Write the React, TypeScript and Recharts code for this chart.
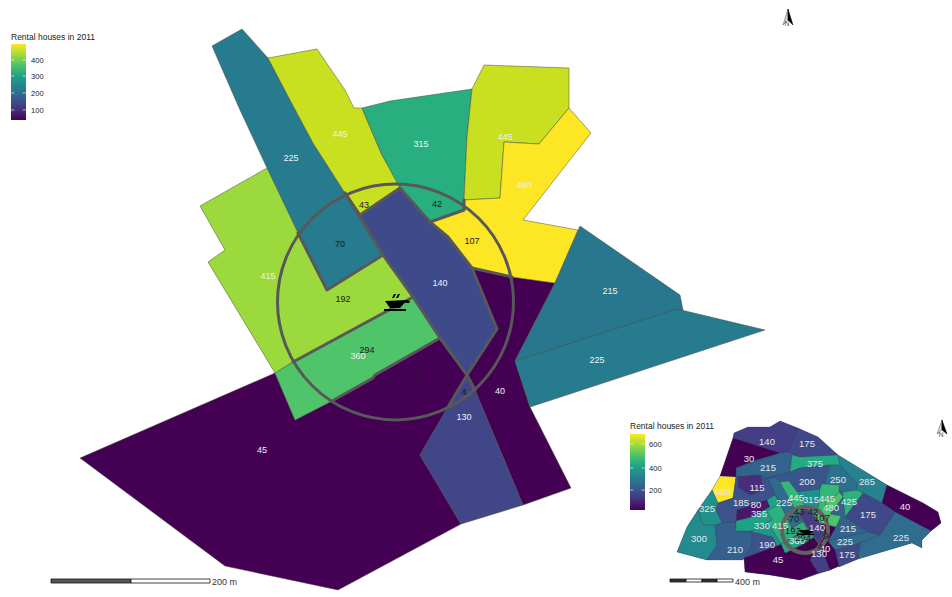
import React from 'react';
import { ScatterChart, Scatter, XAxis, YAxis, ReferenceDot } from 'recharts';

type P = number[];
type Tract = { value: number; pts: P[] };

// ---- main map tracts (map units) ----
const mainTracts: Tract[] = [
  { value: 45, pts: [[80,458],[275,373],[295,420],[332,401],[373,377],[440,338],[467,375],[497,329],[472,268],[512,277],[555,283],[515,361],[530,407],[571,488],[523,505],[475,390],[448,407],[420,455],[461,524],[338,590],[225,566]] },
  { value: 130, pts: [[467,375],[475,390],[523,505],[461,524],[420,455],[448,407]] },
  { value: 225, pts: [[212,46],[242,29],[268,58],[290,100],[313,143],[345,193],[383,255],[327,290],[298,233],[267,168],[240,110]] },
  { value: 445, pts: [[268,58],[317,49],[345,90],[354,108],[362,108],[370,127],[382,155],[398,183],[400,188],[360,215],[345,193],[313,143],[290,100]] },
  { value: 315, pts: [[362,108],[390,101],[472,89],[467,137],[464,200],[464,210],[430,222],[400,188],[382,155],[370,127]] },
  { value: 445.1, pts: [[472,89],[484,65],[569,68],[569,108],[539,144],[504,142],[500,198],[464,200],[467,137]] },
  { value: 480, pts: [[569,108],[591,133],[523,220],[578,230],[555,283],[512,277],[472,268],[448,237],[430,222],[464,210],[464,200],[500,198],[504,142],[539,144]] },
  { value: 140, pts: [[400,188],[430,222],[448,237],[472,268],[497,329],[467,375],[440,338],[413,297],[383,255],[360,215]] },
  { value: 415, pts: [[267,168],[200,206],[225,250],[208,262],[275,373],[293,362],[413,297],[383,255],[327,290],[298,233]] },
  { value: 360, pts: [[275,373],[293,362],[413,297],[440,338],[375,375],[373,378],[332,401],[295,420]] },
  { value: 215, pts: [[580,226],[680,295],[683,310],[515,361],[555,283]] },
  { value: 225.1, pts: [[515,361],[677,309],[765,330],[530,407]] },
];

const mainInnerLines: P[][] = [
  [[345,193],[383,255],[327,290],[298,233]],
  [[345,193],[360,215],[400,188]],
  [[400,188],[430,222],[464,210],[464,200]],
  [[430,222],[448,237],[472,268],[512,277]],
  [[472,268],[497,329],[467,375],[448,407]],
  [[383,255],[413,297],[440,338],[467,375],[475,390]],
  [[293,362],[413,297]],
  [[440,338],[375,375],[373,378],[332,401]],
];

const mainWhiteLabels = [
  ['225',291,158],['445',340,134],['315',421,144],['445',505,137],['480',524,185],['415',268,276],
  ['140',440,283],['360',358,356],['40',500,391],['130',464,417],['45',262,450],['215',610,291],['225',597,360],
];
const mainBlackLabels = [
  ['43',364,205],['42',437,204],['70',340,244],['107',472,241],['192',343,299],['294',367,350],['5',419,379],['9',502,328],['4',464,392],
];

// ---- small map tracts ----
const smallOutline: P[] = [[734,433],[748,427],[770,427],[780,421],[818,437],[838,455],[887,485],[923,503],[938,512],[941,523],[931,531],[922,540],[922,548],[912,543],[892,549],[858,559],[830,570],[800,580],[770,575],[745,572],[744,558],[707,560],[677,552],[687,527],[698,510],[712,490],[720,476],[733,438]];

const smallTracts: Tract[] = [
  { value: 140, pts: [[734,433],[748,427],[770,427],[780,421],[798,428],[790,447],[788,452],[780,453],[733,438]] },
  { value: 175, pts: [[798,428],[818,437],[838,455],[800,457],[788,452],[790,447]] },
  { value: 30, pts: [[733,438],[780,453],[756,460],[736,468],[736,477],[720,476]] },
  { value: 680, pts: [[720,476],[736,477],[733,498],[718,503],[712,490]] },
  { value: 215, pts: [[736,468],[780,453],[788,452],[792,455],[790,472],[760,480],[758,475],[738,477]] },
  { value: 375, pts: [[792,455],[800,457],[838,455],[840,465],[830,465],[800,468],[790,472]] },
  { value: 200, pts: [[760,480],[790,472],[800,468],[830,465],[825,483],[820,489],[798,492],[789,481],[780,482],[775,477]] },
  { value: 250, pts: [[830,465],[840,465],[857,483],[857,490],[843,492],[820,489],[825,483]] },
  { value: 285, pts: [[838,455],[887,485],[882,503],[863,493],[857,490],[857,483],[840,465]] },
  { value: 40, pts: [[887,485],[923,503],[938,512],[941,523],[931,531],[895,512],[882,503]] },
  { value: 225, pts: [[895,512],[931,531],[922,540],[922,548],[912,543],[892,549],[858,559],[860,543],[880,535]] },
  { value: 175, pts: [[882,503],[895,512],[880,535],[868,532],[845,517],[863,493]] },
  { value: 425, pts: [[857,490],[863,493],[845,517],[843,497],[843,492]] },
  { value: 185, pts: [[736,477],[760,475],[769,480],[775,495],[767,500],[737,510],[736,522],[722,523],[716,510],[718,503],[733,498]] },
  { value: 115, pts: [[738,477],[760,475],[764,490],[750,495],[738,487]] },
  { value: 80, pts: [[737,510],[767,500],[770,507],[752,517],[736,521]] },
  { value: 325, pts: [[712,490],[718,503],[716,510],[722,523],[715,525],[703,525],[698,510]] },
  { value: 300, pts: [[698,510],[703,525],[715,525],[717,545],[707,560],[677,552],[687,527]] },
  { value: 210, pts: [[715,525],[722,523],[736,522],[736,531],[752,532],[752,545],[743,560],[707,560],[717,545]] },
  { value: 190, pts: [[752,532],[773,537],[777,546],[744,558],[752,545]] },
  { value: 355, pts: [[736,521],[752,517],[770,507],[767,500],[775,495],[780,504],[767,511],[772,520],[768,522],[752,531],[736,531]] },
  { value: 330, pts: [[752,531],[768,522],[781,544],[777,546],[773,537],[752,532]] },
  { value: 45, pts: [[744,558],[777,546],[782,544],[786,553],[793,549],[801,545],[814,537],[819,544],[825,535],[820,523],[828,525],[836,527],[833,545],[836,547],[839,566],[830,570],[818,573],[800,580],[770,575],[745,572]] },
  { value: 130, pts: [[819,544],[821,547],[830,570],[818,573],[810,560],[815,551]] },
  { value: 175.1, pts: [[835,550],[860,543],[858,559],[839,567]] },
  { value: 225.1, pts: [[828,541],[853,535],[868,532],[880,535],[860,543],[835,550]] },
  { value: 215.1, pts: [[843,497],[845,517],[868,532],[853,535],[828,541],[836,527],[841,516],[830,514]] },
  { value: 225.2, pts: [[769,480],[775,477],[780,482],[795,509],[803,521],[792,528],[780,504]] },
  { value: 445, pts: [[780,482],[789,481],[797,492],[798,492],[806,508],[798,513],[795,509]] },
  { value: 315, pts: [[798,492],[820,489],[818,510],[818,512],[812,514],[806,508]] },
  { value: 445.1, pts: [[820,489],[822,484],[839,485],[839,492],[833,499],[826,499],[825,510],[818,510]] },
  { value: 480, pts: [[839,492],[843,497],[830,514],[841,516],[836,527],[828,525],[820,523],[815,517],[812,514],[818,512],[818,510],[825,510],[826,499],[833,499]] },
  { value: 140.1, pts: [[806,508],[812,514],[815,517],[820,523],[825,535],[819,544],[814,537],[808,529],[803,521],[798,513]] },
  { value: 415, pts: [[780,504],[767,511],[772,520],[768,522],[781,544],[785,542],[808,529],[803,521],[792,528]] },
  { value: 360, pts: [[781,544],[785,542],[808,529],[814,537],[801,545],[793,549],[785,553]] },
];

const smallInnerLines: P[][] = [
  [[795,509],[803,521],[792,528],[786,516]],
  [[795,509],[798,513],[806,508]],
  [[806,508],[812,514],[818,512],[818,510]],
  [[812,514],[815,517],[820,523],[828,525]],
  [[820,523],[825,535],[819,544],[815,551]],
  [[803,521],[808,529],[814,537],[819,544],[821,547]],
  [[785,542],[808,529]],
  [[814,537],[801,545],[793,549]],
];

const smallWhiteLabels = [
  ['140',767,441],['175',807,443],['30',749,458],['215',768,467],['375',815,463],['115',757,487],['200',807,481],['250',838,479],
  ['285',867,481],['680',723,491],['185',741,502],['80',756,504],['225',784,502],['445',796,497],['315',811,499],['445',827,498],
  ['480',831,507],['425',849,501],['40',905,506],['175',868,514],['325',707,508],['355',759,513],['330',762,525],['415',780,525],
  ['140',817,527],['360',797,540],['215',848,528],['225',845,541],['175',847,554],['225',901,537],['300',699,538],['210',735,549],
  ['190',767,544],['45',778,559],['130',819,553],['40',825,548],
];
const smallBlackLabels = [
  ['43',799,511],['42',813,511],['70',794,518],['107',822,517],['192',793,530],['294',803,537],['5',810,545],['9',826,535],['4',820,546],
];

const mainColors: Record<string, string> = {
  '45': '#440154', '130': '#404688', '225': '#277B8E', '445': '#C8E020', '315': '#29AF7F', '480': '#FDE725',
  '140': '#3E4A89', '415': '#9BD93C', '360': '#4FC46A', '215': '#29778E',
};
const smallColors: Record<string, string> = {
  '30': '#440154', '40': '#440154', '45': '#440154', '80': '#48186A', '115': '#472D7B', '130': '#433E85', '140': '#433E85',
  '175': '#3F4889', '185': '#3B528B', '190': '#3B528B', '200': '#39568C', '210': '#35608D', '215': '#33638D', '225': '#2F6C8E',
  '250': '#2D708E', '285': '#26828E', '300': '#238A8D', '315': '#21908C', '325': '#21918C', '330': '#1F968B', '355': '#1FA187',
  '360': '#22A884', '375': '#25AB82', '415': '#2BB07F', '425': '#2DB27D', '445': '#35B779', '480': '#4EC36B', '680': '#FDE725',
};

// top of the bar first
const viridisStops = ['#FDE725', '#A0DA39', '#4AC16D', '#1FA187', '#277F8E', '#365C8D', '#46327E', '#440154'];

// ---- legends ----
const legendMainBar: P[] = [[11,44],[26,44],[26,120],[11,120]];
const legendSmallBar: P[] = [[630,434],[645,434],[645,510],[630,510]];
const legendMainTicks = [['400',60],['300',76],['200',93],['100',110]] as [string, number][];
const legendSmallTicks = [['600',444],['400',468],['200',490]] as [string, number][];

// ---- scale bars, north arrows, boats ----
const mainScaleSegments: [P[], string][] = [
  [[[51,579],[131,579],[131,583],[51,583]], '#555'],
  [[[131,579],[210,579],[210,583],[131,583]], '#fff'],
];
const smallScaleSegments: [P[], string][] = [
  [[[670,579],[686,579],[686,582],[670,582]], '#333'],
  [[[686,579],[702,579],[702,582],[686,582]], '#fff'],
  [[[702,579],[717,579],[717,582],[702,582]], '#333'],
  [[[717,579],[733,579],[733,582],[717,582]], '#fff'],
];

const boats: P[][] = [
  [[385,301],[407,300],[400,308],[390,308]],
  [[407,300],[410,301],[409,303],[405,303]],
  [[384,309],[406,309],[406,311],[384,311]],
  [[392,298],[394,294],[396,294],[394,298]],
  [[396,298],[398,294],[400,294],[398,298]],
  [[798,530],[815,530],[810,534],[803,534]],
  [[797,534],[814,534],[814,535],[797,535]],
];

const arrowsDark: P[][] = [
  [[788,9],[793,25],[788,20]],
  [[942,420],[947,434],[942,430]],
];
const arrowsLight: P[][] = [
  [[788,9],[783,25],[788,20]],
  [[942,420],[937,434],[942,430]],
];

const toPoints = (pts: P[]) => pts.map(([x, y]) => ({ x, y }));
const closed = (pts: P[]) => toPoints([...pts, pts[0]]);
const NoShape = () => <g />;

function polygon(key: string, pts: P[], fill: string, stroke = 'none', strokeWidth = 0) {
  return (
    <Scatter
      key={key}
      data={closed(pts)}
      isAnimationActive={false}
      shape={NoShape}
      line={{ fill, stroke, strokeWidth }}
      legendType="none"
    />
  );
}

function polyline(key: string, pts: P[], stroke: string, strokeWidth: number) {
  return (
    <Scatter
      key={key}
      data={toPoints(pts)}
      isAnimationActive={false}
      shape={NoShape}
      line={{ fill: 'none', stroke, strokeWidth, strokeLinejoin: 'round', strokeLinecap: 'round' }}
      legendType="none"
    />
  );
}

const textShape = (fill: string, size: number, anchor: string) => (p: any) => (
  <text
    x={p.cx}
    y={p.cy}
    fill={fill}
    fontSize={size}
    fontFamily='"Liberation Sans", Arial, sans-serif'
    textAnchor={anchor as any}
    dominantBaseline="central"
  >
    {p.payload.label}
  </text>
);

function labels(key: string, rows: any[], fill: string, size: number, anchor = 'middle') {
  return (
    <Scatter
      key={key}
      data={rows.map(([label, x, y]) => ({ label, x, y }))}
      isAnimationActive={false}
      shape={textShape(fill, size, anchor)}
      legendType="none"
    />
  );
}

export default function App() {
  return (
    <div style={{ position: 'absolute', left: 0, top: 0, width: 952, height: 597, background: '#fff' }}>
      <ScatterChart width={952} height={597} margin={{ top: 0, right: 0, bottom: 0, left: 0 }}>
        <defs>
          <linearGradient id="vir" x1="0" y1="0" x2="0" y2="1">
            {viridisStops.map((c, i) => (
              <stop key={i} offset={`${(i * 100) / (viridisStops.length - 1)}%`} stopColor={c} />
            ))}
          </linearGradient>
        </defs>
        <XAxis type="number" dataKey="x" domain={[0, 952]} hide allowDataOverflow />
        <YAxis type="number" dataKey="y" domain={[0, 597]} reversed hide allowDataOverflow />

        {mainTracts.map((t, i) =>
          polygon(`m${i}`, t.pts, mainColors[String(Math.floor(t.value))], '#4a4a3a', 0.5)
        )}
        {mainInnerLines.map((l, i) => polyline(`ml${i}`, l, '#58585A', 3))}
        <ReferenceDot x={395.5} y={302} r={118} fill="none" stroke="#58585A" strokeWidth={3} ifOverflow="visible" />
        {boats.map((b, i) => polygon(`b${i}`, b, '#000'))}
        {labels('mw', mainWhiteLabels, '#f0f0f0', 9)}
        {labels('mb', mainBlackLabels, '#1a1a1a', 9)}

        {polygon('sbase', smallOutline, smallColors['215'])}
        {smallTracts.map((t, i) =>
          polygon(`s${i}`, t.pts, smallColors[String(Math.floor(t.value))], '#3a3a4a', 0.25)
        )}
        {smallInnerLines.map((l, i) => polyline(`sl${i}`, l, '#58585A', 1.2))}
        <ReferenceDot x={805} y={530} r={23} fill="none" stroke="#626262" strokeWidth={4} ifOverflow="visible" />
        {boats.slice(5).map((b, i) => polygon(`bs${i}`, b, '#000'))}
        {labels('sw', smallWhiteLabels, '#e8e8ee', 9.5)}
        {labels('sb', smallBlackLabels, '#1a1a1a', 9.5)}

        {polygon('lm', legendMainBar, 'url(#vir)')}
        {polygon('ls', legendSmallBar, 'url(#vir)')}
        {legendMainTicks.map(([, y], i) => polyline(`tl${i}`, [[11, y], [14, y]], '#fff', 0.6))}
        {legendMainTicks.map(([, y], i) => polyline(`tr${i}`, [[23, y], [26, y]], '#fff', 0.6))}
        {legendSmallTicks.map(([, y], i) => polyline(`stl${i}`, [[630, y], [633, y]], '#fff', 0.6))}
        {legendSmallTicks.map(([, y], i) => polyline(`str${i}`, [[642, y], [645, y]], '#fff', 0.6))}
        {labels('lt', [['Rental houses in 2011', 11, 37], ['Rental houses in 2011', 630, 426]], '#222', 8.5, 'start')}
        {labels('ltm', legendMainTicks.map(([t, y]) => [t, 31, y]), '#222', 7.6, 'start')}
        {labels('lts', legendSmallTicks.map(([t, y]) => [t, 649, y]), '#222', 7.6, 'start')}

        {mainScaleSegments.map(([s, c], i) => polygon(`ms${i}`, s, c, '#111', 0.8))}
        {smallScaleSegments.map(([s, c], i) => polygon(`ss${i}`, s, c, '#111', 0.8))}
        {labels('sc', [['200 m', 212, 582], ['400 m', 735, 582]], '#333', 9, 'start')}

        {arrowsLight.map((a, i) => polygon(`al${i}`, a, '#d8dde0', '#444', 0.5))}
        {arrowsDark.map((a, i) => polygon(`ad${i}`, a, '#000', '#000', 0.5))}
        {labels('n', [['N', 787, 23], ['N', 941, 434]], '#555', 7)}
      </ScatterChart>
    </div>
  );
}
